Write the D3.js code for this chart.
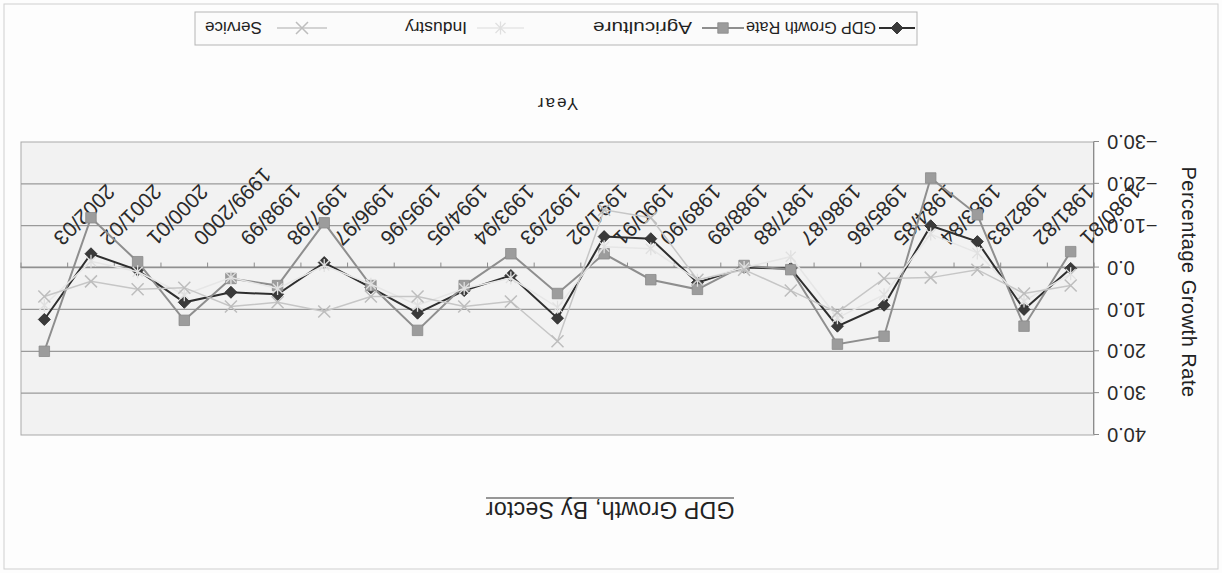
<!DOCTYPE html>
<html><head><meta charset="utf-8">
<script src="https://cdn.jsdelivr.net/npm/d3@7"></script>
<style>
body{margin:0;background:#fff}
svg{display:block}
text{font-family:'Liberation Sans',Arial,sans-serif}
</style>
</head><body>
<svg id="c" width="1222" height="573"></svg>
<script>
const categories=["1980/81","1981/82","1982/83","1983/84","1984/85","1985/86","1986/87","1987/88","1988/89","1989/90","1990/91","1991/92","1992/93","1993/94","1994/95","1995/96","1996/97","1997/98","1998/99","1999/2000","2000/01","2001/02","2002/03"];
const gdpGrowth=[0.2,10.0,-6.2,-10.0,9.0,14.0,0.2,0.0,3.6,-6.9,-7.4,12.1,1.9,5.5,10.9,4.8,-1.2,6.4,5.9,8.3,0.6,-3.3,12.4];
const agriculture=[-3.8,14.0,-12.6,-21.4,16.4,18.3,0.5,-0.5,5.2,2.9,-3.3,6.2,-3.3,4.3,15.0,4.3,-10.7,4.3,2.6,12.6,-1.4,-11.9,20.0];
const industry=[1.5,8.0,-3.5,-8.0,6.5,12.0,-2.6,0.0,3.0,-4.5,-5.0,9.5,2.5,5.0,9.0,4.0,-0.5,5.0,2.4,6.5,1.0,-1.5,9.0];
const service=[4.3,6.2,0.5,2.4,2.6,10.7,5.5,0.5,2.9,-11.9,-13.8,17.6,8.1,9.3,6.9,6.9,10.5,8.3,9.3,4.8,5.2,3.3,6.9];
const yTicks=[-30,-20,-10,0,10,20,30,40];
const seriesNames=["GDP Growth Rate","Agriculture","Industry","Service"];
const titleText="GDP Growth, By Sector";
const yTitle="Percentage Growth Rate";
const xTitle="Year";

const W=1222,H=573;
const FONT="'Liberation Sans',Arial,sans-serif";
const svg=d3.select('#c');
svg.append('rect').attr('width',W).attr('height',H).attr('fill','#fdfdfd');
const root=svg.append('g').attr('transform',`rotate(180 ${W/2} ${H/2})`);

// chart border
root.append('rect').attr('x',4).attr('y',4).attr('width',W-8).attr('height',H-8)
  .attr('fill','none').attr('stroke','#cfcfcf').attr('stroke-width',1);

const m={left:128,right:1201,top:138,bottom:431};
const x=d3.scaleBand().domain(categories).range([m.left,m.right]);
const y=d3.scaleLinear().domain([d3.min(yTicks),d3.max(yTicks)]).range([m.bottom,m.top]);
const cx=i=>x(categories[i])+x.bandwidth()/2;

// plot area
root.append('rect').attr('x',m.left).attr('y',m.top).attr('width',m.right-m.left).attr('height',m.bottom-m.top)
  .attr('fill','#f2f2f2').attr('stroke','#a9a9a9');

// gridlines
root.append('g').selectAll('line').data(yTicks.filter(d=>d!==d3.min(yTicks)&&d!==d3.max(yTicks))).join('line')
  .attr('x1',m.left).attr('x2',m.right).attr('y1',d=>y(d)).attr('y2',d=>y(d))
  .attr('stroke','#9a9a9a').attr('stroke-width',1.2);

// y axis
const ya=root.append('g').attr('transform',`translate(${m.left},0)`)
  .call(d3.axisLeft(y).tickValues(yTicks).tickFormat(d3.format('.1f')).tickSize(5).tickSizeOuter(0).tickPadding(8));
ya.attr('font-family',FONT).attr('font-size',20);
ya.select('.domain').attr('stroke','#8c8c8c');
ya.selectAll('.tick line').attr('stroke','#8c8c8c');
ya.selectAll('.tick text').attr('fill','#2a2a2a');

// x axis at zero
const xa=root.append('g').attr('transform',`translate(0,${y(0)})`)
  .call(d3.axisBottom(x).tickSize(0).tickSizeOuter(0).tickPadding(0));
xa.attr('font-family',FONT).attr('font-size',21);
xa.select('.domain').attr('stroke','#8c8c8c').attr('stroke-width',1.2);
xa.selectAll('.tick text').attr('fill','#2a2a2a').attr('y',0).attr('dy',0)
  .attr('text-anchor','end').attr('transform','translate(-8,31) rotate(-45)');
// boundary ticks
const bounds=categories.map(c=>x(c)).concat([x.range()[1]]);
root.append('g').selectAll('line').data(bounds).join('line')
  .attr('x1',d=>d).attr('x2',d=>d).attr('y1',y(0)).attr('y2',y(0)+5)
  .attr('stroke','#8c8c8c');

// series
const line=d3.line().x((d,i)=>cx(i)).y(d=>y(d));
const styles=[
  {data:gdpGrowth,stroke:'#2e2e2e',width:2,marker:'diamond',fill:'#3a3a3a'},
  {data:agriculture,stroke:'#8e8e8e',width:2,marker:'square',fill:'#9c9c9c'},
  {data:industry,stroke:'#e6e6e6',width:1.5,marker:'asterisk',fill:'#e0e0e0'},
  {data:service,stroke:'#c6c6c6',width:1.5,marker:'x',fill:'#bdbdbd'}
];
function drawMarker(g,type,px,py,fill){
  if(type==='diamond'){
    g.append('path').attr('d',d3.symbol().type(d3.symbolSquare).size(72)())
      .attr('transform',`translate(${px},${py}) rotate(45)`).attr('fill',fill).attr('stroke','#2a2a2a').attr('stroke-width',0.8);
  } else if(type==='square'){
    g.append('path').attr('d',d3.symbol().type(d3.symbolSquare).size(110)())
      .attr('transform',`translate(${px},${py})`).attr('fill',fill).attr('stroke','#8a8a8a').attr('stroke-width',0.8);
  } else if(type==='x'){
    const s=6;
    g.append('path').attr('d',`M${px-s},${py-s}L${px+s},${py+s}M${px-s},${py+s}L${px+s},${py-s}`)
      .attr('stroke',fill).attr('stroke-width',1.5).attr('fill','none');
  } else {
    const s=5;
    g.append('path').attr('d',`M${px-s},${py-s}L${px+s},${py+s}M${px-s},${py+s}L${px+s},${py-s}M${px},${py-s*1.3}L${px},${py+s*1.3}`)
      .attr('stroke',fill).attr('stroke-width',1.3).attr('fill','none');
  }
}
styles.forEach(s=>{
  const g=root.append('g');
  g.append('path').datum(s.data).attr('d',line).attr('fill','none').attr('stroke',s.stroke).attr('stroke-width',s.width);
  s.data.forEach((v,i)=>drawMarker(g,s.marker,cx(i),y(v),s.fill));
});

// titles
root.append('text').attr('x',612).attr('y',71).attr('text-anchor','middle')
  .attr('font-size',23).attr('fill','#222').attr('letter-spacing',0.3).text(titleText);
root.append('line').attr('x1',488).attr('x2',736).attr('y1',75).attr('y2',75).attr('stroke','#333').attr('stroke-width',1.2);
root.append('text').attr('transform',`translate(40,291) rotate(-90)`).attr('text-anchor','middle')
  .attr('font-size',20).attr('fill','#222').attr('letter-spacing',0.5).text(yTitle);
root.append('text').attr('x',665).attr('y',475).attr('text-anchor','middle')
  .attr('font-size',17).attr('fill','#222').attr('letter-spacing',2).text(xTitle);

// legend
const lg=root.append('g');
lg.append('rect').attr('x',305).attr('y',528).attr('width',722).attr('height',33)
  .attr('fill','#fbfbfb').attr('stroke','#b5b5b5');
const legLine=[[307,343],[478,520],[698,745],[895,945]];
const legText=[[346,130],[530,99],[755,62],[960,57]];
const ly=545;
styles.forEach((s,k)=>{
  const [a,b]=legLine[k];
  lg.append('line').attr('x1',a).attr('x2',b).attr('y1',ly).attr('y2',ly).attr('stroke',s.stroke).attr('stroke-width',s.width);
  drawMarker(lg,s.marker,(a+b)/2,ly,s.fill);
  lg.append('text').attr('x',legText[k][0]).attr('y',ly+6).attr('font-size',17).attr('fill','#222')
    .attr('textLength',legText[k][1]).attr('lengthAdjust','spacingAndGlyphs').text(seriesNames[k]);
});
</script>
</body></html>
